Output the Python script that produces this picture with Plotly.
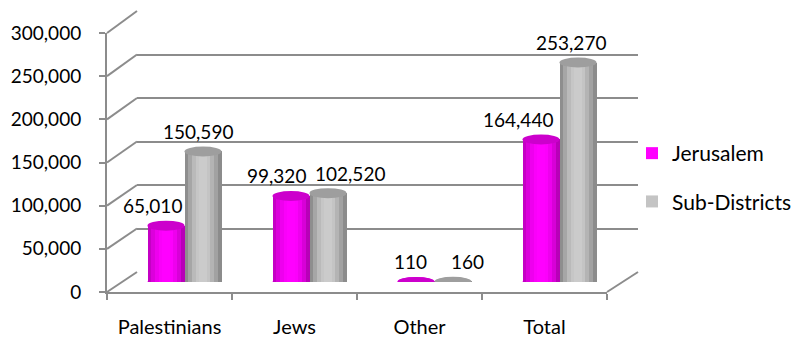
import plotly.graph_objects as go

# ---- data ----
categories = ["Palestinians", "Jews", "Other", "Total"]
jerusalem = [65010, 99320, 110, 164440]
sub_districts = [150590, 102520, 160, 253270]
y_ticks = [0, 50000, 100000, 150000, 200000, 250000, 300000]
series_names = ["Jerusalem", "Sub-Districts"]

# ---- geometry (pixels) ----
W, H = 795, 339
FONT = "Lato"
FS = 19
FS_CAT = 20
FS_LEG = 21
GRID = "#8C8C8C"
YMAX = 300000


def px(x):
    return x / W


def py(y):
    return (H - y) / H


# front plane, back plane, middle plane (bars)
FX = (107, 607); FY = (292, 33)
BX = (137, 638); BY = (272, 11)
MX = (122, 622); MY = (282, 22)

front_xd = [px(FX[0]), px(FX[1])]
front_yd = [py(FY[0]), py(FY[1])]
back_xd = [px(BX[0]), px(BX[1])]
back_yd = [py(BY[0]), py(BY[1])]
mid_xd = [px(MX[0]), px(MX[1])]
mid_yd = [py(MY[0]), py(MY[1])]

xpos = list(range(len(categories)))
BW = 0.296  # bar width in category units

mag_base = "#FF00FF"
gray_base = "#C4C4C4"
mag_bands = ["#C400C4", "#DC00DC", "#EE00EE", "#FA00FA", "#FF00FF",
             "#FF00FF", "#FC00FC", "#EE00EE", "#D800D8", "#B800B8"]
gray_bands = ["#8E8E8E", "#A6A6A6", "#BABABA", "#C6C6C6", "#CBCBCB",
              "#CBCBCB", "#C4C4C4", "#B4B4B4", "#A2A2A2", "#8C8C8C"]
cap_colors = ["#CC00CC", "#9E9E9E"]
# pixel nudges of the value labels (layout only)
label_dx = [[-14, -15, -6, -23], [-5, 22, 14, -7]]

fig = go.Figure()

# empty traces so the front and back-wall axes are rendered
fig.add_trace(go.Scatter(x=[], y=[], xaxis="x", yaxis="y", showlegend=False,
                         hoverinfo="skip"))
fig.add_trace(go.Scatter(x=[], y=[], xaxis="x2", yaxis="y2", showlegend=False,
                         hoverinfo="skip"))

series = [(series_names[0], jerusalem, -BW, mag_base, mag_bands),
          (series_names[1], sub_districts, 0.0, gray_base, gray_bands)]

for gi, (name, vals, off, base, bands) in enumerate(series):
    fig.add_trace(go.Bar(
        x=xpos, y=vals, name=name, offset=off, width=BW,
        marker=dict(color=base, line=dict(width=0)),
        xaxis="x3", yaxis="y3", legendgroup=name, hoverinfo="skip"))
    n = len(bands)
    for bi, c in enumerate(bands):
        fig.add_trace(go.Bar(
            x=xpos, y=vals, offset=off + bi * BW / n, width=BW / n + 0.002,
            marker=dict(color=c, line=dict(width=0)),
            xaxis="x3", yaxis="y3", showlegend=False, legendgroup=name,
            hoverinfo="skip"))

shapes = []
# side wall diagonals for each gridline
for v in y_ticks:
    f = front_yd[0] + v / YMAX * (front_yd[1] - front_yd[0])
    b = back_yd[0] + v / YMAX * (back_yd[1] - back_yd[0])
    shapes.append(dict(type="line", xref="paper", yref="paper",
                       x0=front_xd[0], y0=f, x1=back_xd[0], y1=b,
                       line=dict(color=GRID, width=2), layer="below"))
# floor right edge
shapes.append(dict(type="line", xref="paper", yref="paper",
                   x0=front_xd[1], y0=front_yd[0], x1=back_xd[1], y1=back_yd[0],
                   line=dict(color=GRID, width=2), layer="below"))

# cylinder bottoms and tops
for gi, (name, vals, off, base, bands) in enumerate(series):
    for i, v in zip(xpos, vals):
        shapes.append(dict(type="circle", xref="x3", yref="y3",
                           x0=i + off, x1=i + off + BW,
                           ysizemode="pixel", yanchor=0, y0=-5, y1=5,
                           fillcolor=bands[len(bands) // 2], line=dict(width=0),
                           layer="below"))
for gi, (name, vals, off, base, bands) in enumerate(series):
    for i, v in zip(xpos, vals):
        shapes.append(dict(type="circle", xref="x3", yref="y3",
                           x0=i + off, x1=i + off + BW,
                           ysizemode="pixel", yanchor=v, y0=-5, y1=5,
                           fillcolor=cap_colors[gi], line=dict(width=0),
                           layer="above"))

annotations = []
for gi, (name, vals, off, base, bands) in enumerate(series):
    for i, v in zip(xpos, vals):
        annotations.append(dict(
            xref="x3", yref="y3", x=i + off + BW / 2, y=v,
            text=f"{v:,}", showarrow=False, xshift=label_dx[gi][i], yshift=20,
            font=dict(family=FONT, size=FS, color="#000000")))

fig.update_layout(
    width=W, height=H,
    margin=dict(l=0, r=0, t=0, b=0, autoexpand=False),
    paper_bgcolor="white", plot_bgcolor="rgba(0,0,0,0)",
    barmode="overlay", bargap=0,
    font=dict(family=FONT, size=FS, color="#000000"),
    showlegend=True,
    legend=dict(x=px(632), y=py(133), xanchor="left", yanchor="top",
                font=dict(family=FONT, size=FS_LEG, color="#000000"),
                tracegroupgap=18, traceorder="grouped",
                bgcolor="rgba(0,0,0,0)"),
    xaxis=dict(domain=front_xd, anchor="y", range=[-0.5, len(categories) - 0.5],
               tickmode="array", tickvals=xpos, ticktext=categories,
               tickfont=dict(family=FONT, size=FS_CAT, color="#000000"),
               ticks="", showgrid=False, zeroline=False,
               showline=True, linecolor=GRID, linewidth=2,
               ticklabelstandoff=16, automargin=False,
               minor=dict(tickmode="array",
                          tickvals=[i - 0.5 for i in range(len(categories) + 1)],
                          ticks="outside", ticklen=6, tickcolor=GRID, tickwidth=2,
                          showgrid=False),
               fixedrange=True),
    yaxis=dict(domain=front_yd, anchor="x", range=[0, YMAX],
               tickmode="array", tickvals=y_ticks, tickformat=",",
               ticks="outside", ticklen=6, tickcolor=GRID, tickwidth=2,
               showgrid=False, zeroline=False,
               showline=True, linecolor=GRID, linewidth=2,
               ticklabelstandoff=14, automargin=False, fixedrange=True),
    xaxis2=dict(domain=back_xd, anchor="y2", range=[-0.5, len(categories) - 0.5],
                visible=False, automargin=False, fixedrange=True),
    yaxis2=dict(domain=back_yd, anchor="x2", range=[0, YMAX],
                tickmode="array", tickvals=y_ticks, showticklabels=False,
                ticks="", showgrid=True, gridcolor=GRID, gridwidth=2,
                zeroline=False, showline=False, automargin=False,
                fixedrange=True),
    xaxis3=dict(domain=mid_xd, anchor="y3", range=[-0.5, len(categories) - 0.5],
                visible=False, automargin=False, fixedrange=True),
    yaxis3=dict(domain=mid_yd, anchor="x3", range=[0, YMAX],
                visible=False, automargin=False, fixedrange=True),
    shapes=shapes,
    annotations=annotations,
)

fig.write_html("out.html")
